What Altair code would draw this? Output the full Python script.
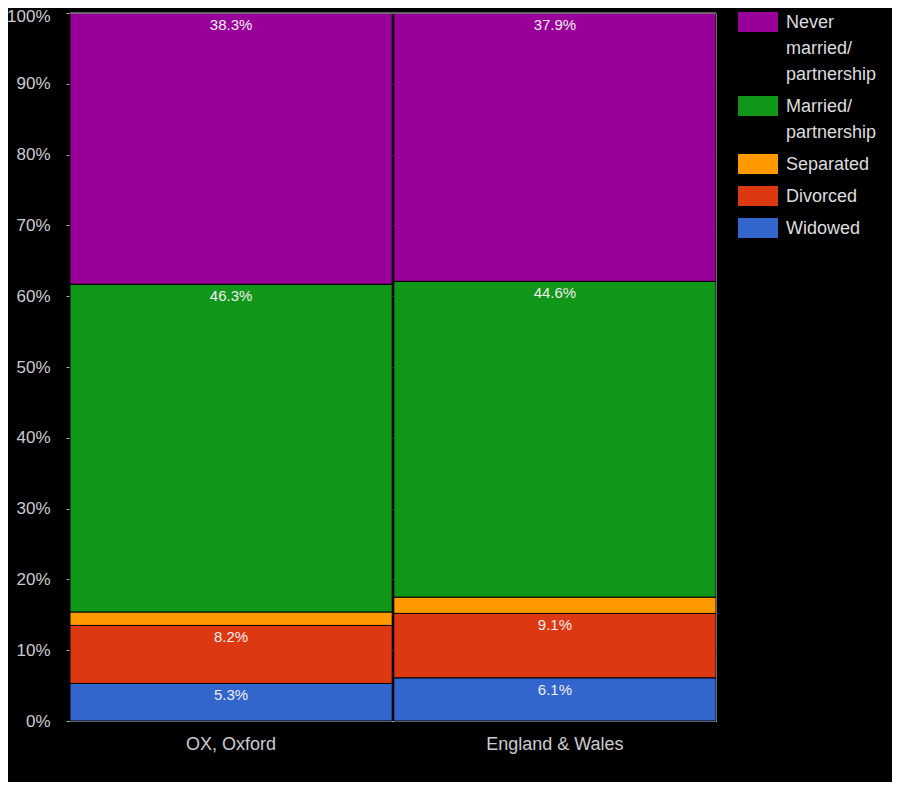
import altair as alt
import pandas as pd

areas = ["OX, Oxford", "England & Wales"]
categories = ["Never married/partnership", "Married/partnership", "Separated", "Divorced", "Widowed"]
colors = ["#990099", "#109618", "#ff9900", "#dc3912", "#3366cc"]
oxford = [38.3, 46.3, 1.9, 8.2, 5.3]
england = [37.9, 44.6, 2.3, 9.1, 6.1]

rows = []
for area, vals in zip(areas, [oxford, england]):
    for i, (c, v) in enumerate(zip(categories, vals)):
        rows.append({"area": area, "category": c, "value": v, "order": len(categories) - i})
df = pd.DataFrame(rows)

font = "Liberation Sans"

base = alt.Chart(df).transform_stack(
    stack="value", as_=["y0", "y1"], groupby=["area"], sort=[alt.SortField("order")]
)

x_enc = alt.X(
    "area:N", sort=areas, title=None,
    scale=alt.Scale(paddingInner=0.005, paddingOuter=0),
    axis=alt.Axis(labelAngle=0, ticks=False, domain=True, domainColor="#bbb",
                  labelFontSize=18, labelColor="#ccc", labelFont=font, labelPadding=8, grid=False),
)

legend_expr = ("datum.label == 'Never married/partnership' ? ['Never', 'married/', 'partnership'] : "
               "datum.label == 'Married/partnership' ? ['Married/', 'partnership'] : datum.label")

major = "datum.value % 10 == 0"

bars = base.mark_bar(stroke="black", strokeWidth=1).encode(
    x=x_enc,
    y=alt.Y("y0:Q", title=None,
            scale=alt.Scale(domain=[0, 100], nice=False),
            axis=alt.Axis(values=list(range(0, 101, 5)),
                          labelExpr="datum.value % 10 == 0 ? datum.value + '%' : ''",
                          labelFontSize=17, labelColor="#ccc", labelFont=font,
                          labelOffset={"condition": {"test": "datum.value == 100", "value": -3}, "value": -6},
                          tickSize=4,
                          tickColor={"condition": {"test": major, "value": "#aaa"}, "value": "#555"},
                          labelPadding=16, domain=False, grid=True,
                          gridColor={"condition": {"test": major, "value": "#999"}, "value": "#444"})),
    y2="y1:Q",
    color=alt.Color("category:N", scale=alt.Scale(domain=categories, range=colors),
                    legend=alt.Legend(title=None, orient="none", legendX=668, legendY=-11, padding=0,
                                      labelExpr=legend_expr, labelFontSize=18, labelColor="#ddd",
                                      labelFont=font, labelOffset=8, labelLimit=200,
                                      labelBaseline="alphabetic",
                                      symbolType="M-1,-0.5H1V0.5H-1Z", symbolSize=1600,
                                      symbolStrokeWidth=0, symbolOpacity=1, rowPadding=2)),
    order=alt.Order("order:Q"),
)

labels = base.transform_filter("datum.value > 3").transform_calculate(
    lbl="format(datum.value, '.1f') + '%'"
).mark_text(
    baseline="top", dy=5, fontSize=15, color="#eee", font=font
).encode(
    x=alt.X("area:N", sort=areas),
    y="y1:Q",
    text="lbl:N",
)

top_line = alt.Chart(pd.DataFrame({"v": [100]})).mark_rule(color="#bbb", strokeWidth=1).encode(y="v:Q")

chart = alt.layer(bars, labels, top_line).properties(
    width=646, height=708,
    autosize=alt.AutoSizeParams(type="none"),
    padding={"left": 62, "top": 5, "right": 176, "bottom": 61},
    background="black",
).configure_view(stroke=None).configure(style={"guide-label": {"lineHeight": 26, "dy": 6}})

chart.save("out.html", embed_options={"renderer": "svg", "actions": False})
